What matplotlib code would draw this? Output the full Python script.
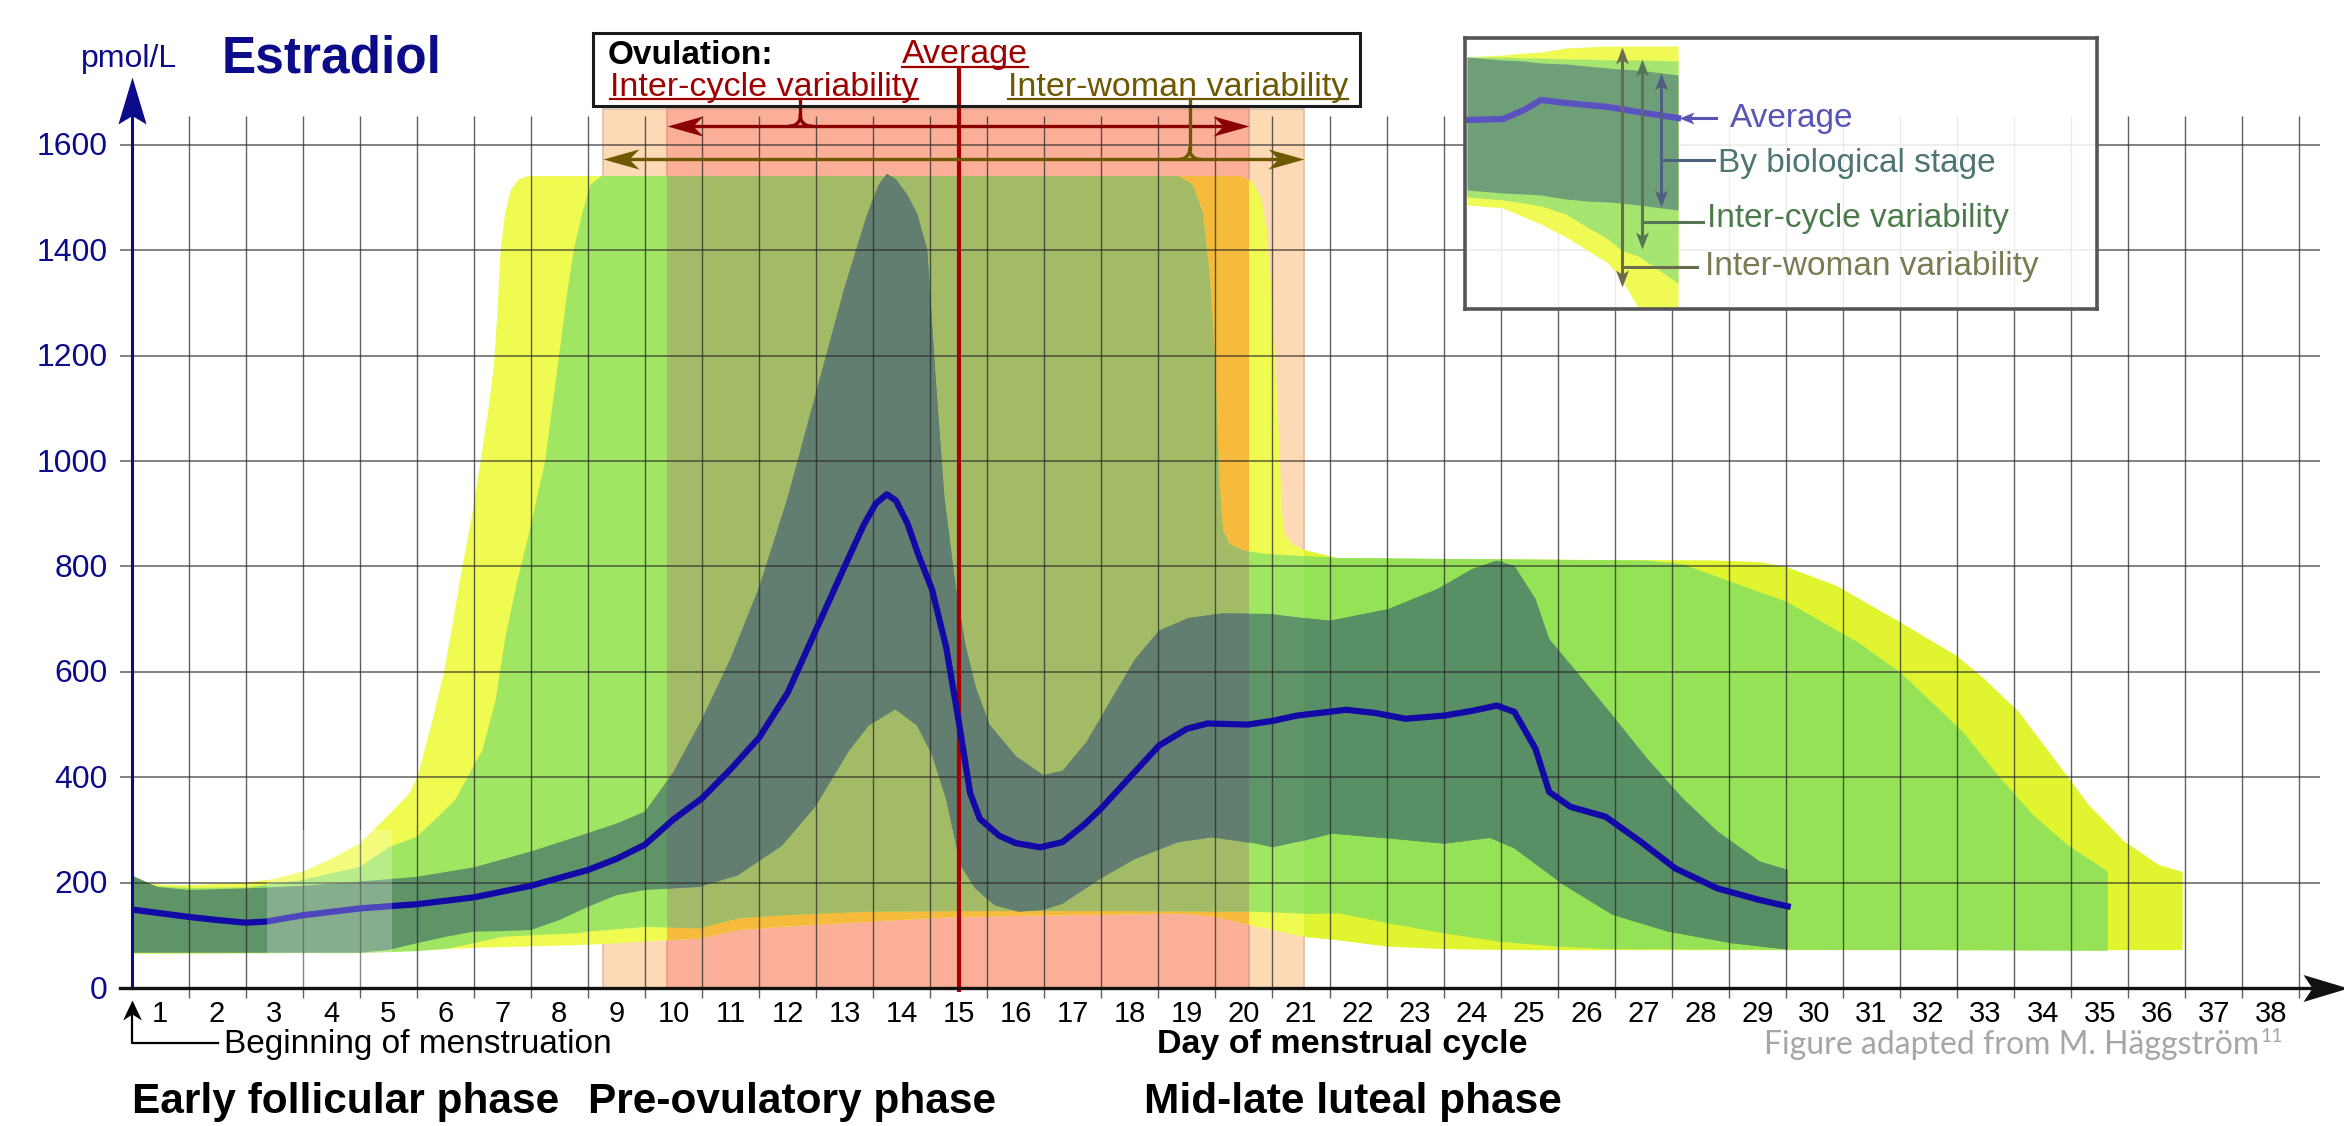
import numpy as np
import matplotlib
matplotlib.use("Agg")
import matplotlib.pyplot as plt
from matplotlib.patches import Rectangle
from matplotlib.lines import Line2D
from matplotlib.path import Path

plt.rcParams['font.family'] = ['Liberation Sans', 'DejaVu Sans']

W, H = 2344, 1126                 # output size in pixels
PX_DAY, PX_VAL = 57.05, 0.5269    # pixels per day / per pmol/L
X0, Y0 = 131.5, 988               # pixel position of (day 0.5, 0 pmol/L)

# ---------------- data ----------------
days = list(range(1, 39))
yticks = [0, 200, 400, 600, 800, 1000, 1200, 1400, 1600]

# average level
avg_x = [0.5, 1.0, 1.5, 2.0, 2.5, 2.86, 3.5, 4.5, 5.5, 6.5, 7.5, 8.5, 9.0, 9.5, 10.0,
         10.5, 11.0, 11.5, 12.0, 12.5, 13.0, 13.34, 13.55, 13.74, 13.9, 14.1, 14.3, 14.53,
         14.78, 15.0, 15.2, 15.37, 15.71, 16.0, 16.43, 16.82, 17.2, 17.49, 18.0, 18.51,
         19.0, 19.36, 20.07, 20.5, 20.93, 21.79, 22.3, 22.83, 23.51, 24.0, 24.43, 24.74,
         25.11, 25.35, 25.72, 26.34, 26.95, 27.56, 28.3, 29.04, 29.53]
avg = [149, 142, 135, 129, 124, 126, 138, 151, 159, 172, 194, 224, 245, 272, 320,
       360, 415, 475, 560, 680, 800, 880, 920, 937, 925, 882, 820, 757,
       647, 506, 370, 321, 289, 275, 267, 277, 310, 340, 400, 460,
       492, 502, 500, 507, 517, 528, 522, 511, 517, 526, 536, 524,
       454, 372, 344, 325, 278, 227, 189, 167, 155]

# by biological stage (dark band)
stage_top_x = [0.5, 0.95, 1.5, 2.5, 3.5, 4.5, 5.5, 6.5, 7.5, 8.5, 9.0, 9.5, 10.0, 10.5,
               11.0, 11.5, 12.0, 12.5, 13.0, 13.4, 13.6, 13.74, 13.9, 14.1, 14.27, 14.45,
               14.6, 14.75, 14.95, 15.12, 15.3, 15.54, 16.0, 16.48, 16.82, 17.24, 17.66,
               18.09, 18.51, 19.02, 19.61, 20.46, 21.06, 21.51, 22.53, 23.39, 24.0, 24.43,
               24.74, 25.11, 25.35, 25.84, 26.46, 27.07, 27.69, 28.3, 29.04, 29.53]
stage_top = [214, 192, 186, 189, 194, 202, 211, 229, 259, 294, 312, 335, 410, 510,
             625, 760, 930, 1130, 1330, 1470, 1525, 1545, 1535, 1505, 1470, 1400,
             1150, 930, 760, 650, 570, 500, 440, 404, 412, 467, 545,
             624, 678, 702, 711, 710, 702, 697, 719, 757, 795, 811,
             801, 738, 662, 599, 517, 435, 360, 297, 240, 224]
stage_bot_x = [0.5, 4.5, 5.0, 5.5, 6.0, 6.5, 7.0, 7.5, 8.0, 8.5, 9.0, 9.5, 10.45, 11.13,
               11.9, 12.49, 13.08, 13.42, 13.89, 14.27, 14.53, 14.78, 15.03, 15.29, 15.63,
               16.05, 16.48, 16.82, 17.49, 18.09, 18.85, 19.44, 20.21, 20.5, 21.06, 21.54,
               22.53, 23.51, 24.31, 24.74, 25.6, 26.46, 27.44, 28.55, 29.53]
stage_bot = [67, 67, 72, 85, 97, 107, 108, 110, 129, 154, 176, 186, 192, 214,
             270, 345, 451, 498, 529, 498, 443, 358, 233, 189, 157,
             145, 148, 160, 208, 245, 277, 286, 274, 267, 280, 293,
             284, 274, 285, 265, 196, 139, 107, 85, 73]

# inter-cycle variability (light green band)
cycle_top_x = [0.5, 1.5, 2.5, 3.5, 4.5, 5.03, 5.5, 6.0, 6.18, 6.41, 6.65, 6.88, 7.05, 7.23,
               7.46, 7.75, 7.99, 8.13, 8.25, 8.40, 8.55, 8.74, 18.85, 19.1, 19.28, 19.4,
               19.49, 19.57, 19.63, 19.75, 20.0, 20.38, 21.63, 27.07, 27.69, 28.55, 29.53,
               30.14, 30.76, 31.5, 31.99, 32.6, 33.21, 33.83, 34.44, 35.14]
cycle_top = [195, 190, 191, 205, 230, 268, 287, 338, 358, 404, 451, 545, 663, 757,
             859, 1000, 1196, 1314, 1400, 1471, 1525, 1541, 1541, 1525, 1471, 1353,
             1196, 961, 870, 842, 830, 824, 816, 811, 804, 770, 732,
             694, 656, 599, 549, 486, 404, 328, 271, 221]
cycle_bot_x = [0.5, 4.5, 5.5, 6.0, 6.5, 7.0, 7.5, 8.33, 8.5, 9.5, 10.45, 11.13, 11.9, 13.42,
               15.0, 18.0, 19.5, 20.12, 21.06, 21.67, 22.53, 23.51, 24.49, 25.48, 26.46, 35.14]
cycle_bot = [66, 66, 70, 74, 85, 97, 100, 104, 107, 116, 113, 132, 138, 145,
             146, 146, 145, 145, 141, 142, 123, 104, 88, 79, 74, 71]

# inter-woman variability (yellow band)
woman_top_x = [0.5, 1.0, 1.5, 2.5, 3.0, 3.5, 3.96, 4.5, 5.03, 5.37, 5.51, 5.77, 5.98, 6.12,
               6.3, 6.47, 6.62, 6.76, 6.85, 6.91, 6.97, 7.05, 7.15, 7.29, 7.46, 19.95, 20.15,
               20.3, 20.4, 20.5, 20.6, 20.67, 20.72, 20.85, 21.06, 21.67, 28.3, 29.04, 29.53,
               30.39, 31.5, 32.48, 32.97, 33.58, 34.2, 34.81, 35.43, 36.04, 36.45]
woman_top = [205, 196, 195, 200, 207, 221, 243, 274, 331, 369, 400, 506, 600, 686,
             800, 898, 1000, 1102, 1180, 1275, 1400, 1471, 1515, 1535, 1541, 1541, 1530,
             1500, 1440, 1300, 1080, 900, 860, 842, 831, 815, 811, 808, 798,
             763, 694, 631, 587, 524, 435, 347, 278, 233, 220]
woman_bot_x = [0.5, 3.0, 5.0, 6.5, 7.5, 8.5, 9.5, 10.45, 11.13, 11.9, 13.42, 15.0, 16.8,
               18.93, 19.5, 20.12, 20.63, 21.06, 21.63, 22.5, 23.5, 25.0, 36.45]
woman_bot = [65, 66, 70, 76, 79, 82, 88, 94, 110, 116, 126, 135, 138,
             141, 135, 119, 107, 97, 91, 79, 74, 72, 72]

# ovulation day ranges
ovu_woman = (8.76, 21.06)
ovu_cycle = (9.89, 20.08)
ovu_avg = 15.0
ovu_top = 1669

# legend inset (its own pixel units)
ins_x = [2, 38, 59, 76, 101, 122, 143, 156, 173, 213]
ins_woman_top = [19, 17, 15, 14, 10, 9, 8, 8, 8, 8]
ins_woman_bot = [167, 170, 179, 186, 199, 212, 225, 240, 270, 270]
ins_cycle_top = [19, 19, 20, 20, 21, 21, 22, 22, 22, 23]
ins_cycle_bot = [159, 162, 165, 168, 176, 189, 201, 212, 218, 245]
ins_stage_top = [19, 22, 23, 25, 26, 28, 30, 31, 32, 37]
ins_stage_bot = [152, 155, 156, 157, 161, 163, 164, 165, 167, 172]
ins_avg = [82, 81, 72, 62, 65, 67, 69, 71, 74, 80]

NAVY = '#0C0C8A'
RED = '#9E0000'
OLIVE = '#6E5800'


def head(axis, x, y, angle, length_px, half_w, notch, color, z=10):
    v = np.array([[0, 0], [-1, half_w], [-notch, 0], [-1, -half_w], [0, 0]])
    th = np.deg2rad(angle)
    rot = np.array([[np.cos(th), -np.sin(th)], [np.sin(th), np.cos(th)]])
    path = Path(v @ rot.T, [Path.MOVETO, Path.LINETO, Path.LINETO, Path.LINETO, Path.CLOSEPOLY])
    axis.plot([x], [y], marker=path, ms=2 * length_px * 0.72, color=color, mew=0,
              clip_on=False, zorder=z, ls='none')


def fxy(px, py):
    return px / W, 1 - py / H


fig = plt.figure(figsize=(W / 100, H / 100), dpi=100)
ax = fig.add_axes([X0 / W, 1 - Y0 / H, 38.7 * PX_DAY / W, 1700 * PX_VAL / H])
ax.set_xlim(0.5, 39.2)
ax.set_ylim(0, 1700)
ax.axis('off')

# ovulation windows
ax.add_patch(Rectangle((ovu_woman[0], 0), ovu_woman[1] - ovu_woman[0], ovu_top,
                       fc='#FDD9B6', ec='#D6C0AA', lw=1.2, zorder=1))
ax.add_patch(Rectangle((ovu_cycle[0], 0), ovu_cycle[1] - ovu_cycle[0], ovu_top,
                       fc='#FCAF98', ec='#D9A08C', lw=1.2, zorder=1.1))


def clip_rect(a, b):
    return Rectangle((a, -100), b - a, 2000, transform=ax.transData)


def layer(xt, yt, xb, yb, base, right, tint, z):
    xs = np.r_[xt, xb[::-1]]
    ys = np.r_[yt, yb[::-1]]
    ax.fill(xs, ys, color=base, lw=0, zorder=z)
    p = ax.fill(xs, ys, color=right, lw=0, zorder=z + 0.01)[0]
    p.set_clip_path(clip_rect(ovu_woman[1], 40))
    p = ax.fill(xs, ys, color=tint, lw=0, zorder=z + 0.02)[0]
    p.set_clip_path(clip_rect(*ovu_cycle))


layer(woman_top_x, woman_top, woman_bot_x, woman_bot, '#F0FB52', '#E0F52F', '#F6BA3C', 2)
layer(cycle_top_x, cycle_top, cycle_bot_x, cycle_bot, '#A0E662', '#95E256', '#A3BB66', 3)
layer(stage_top_x, stage_top, stage_bot_x, stage_bot, '#5E9467', '#588F64', '#627E70', 4)

# grid
grid_x = [d + 0.5 for d in days]
ax.vlines(grid_x, -19, 1655, colors='#2A2A2A', lw=1.0, alpha=0.75, zorder=5, clip_on=False)
ax.hlines(yticks[1:], 0.3, 38.86, colors='#2A2A2A', lw=1.1, alpha=0.75, zorder=5, clip_on=False)

# ovulation average line and the average curve
ax.plot([ovu_avg, ovu_avg], [-7, (Y0 - 66.7) / PX_VAL], color='#A80000', lw=3,
        zorder=6, clip_on=False, solid_capstyle='butt')
ax.plot(avg_x, avg, color='#1209A6', lw=4.5, zorder=7, solid_joinstyle='round')
ax.add_patch(Rectangle((2.88, 2), 2.18, 298, fc='white', alpha=0.25, lw=0, zorder=7.5))

# axes with arrows
y_tip = (Y0 - 76.7) / PX_VAL
ax.plot([0.5, 0.5], [0, y_tip - 0.8 * 47 / PX_VAL], color=NAVY, lw=2.2, clip_on=False, zorder=9)
head(ax, 0.5, y_tip, 90, 47, 0.30, 0.82, NAVY)
x_tip = 39.35
ax.plot([0.3, x_tip - 0.8 * 45 / PX_DAY], [0, 0], color='#111111', lw=2.4, clip_on=False, zorder=9)
head(ax, x_tip, 0, 0, 45, 0.30, 0.8, '#111111')

for d in days:
    ax.text(d, -64, str(d), ha='center', va='baseline', fontsize=21, color='black')
for v in yticks:
    ax.text(0.088, v - 20, str(v), ha='right', va='baseline', fontsize=23, color=NAVY)

# beginning of menstruation pointer
b_y = (Y0 - 1042.7) / PX_VAL
b_tip = (Y0 - 1000) / PX_VAL
ax.plot([0.5 + (218 - X0) / PX_DAY, 0.5, 0.5], [b_y, b_y, b_tip - 0.7 * 20 / PX_VAL],
        color='black', lw=1.6, clip_on=False, zorder=9)
head(ax, 0.5, b_tip, 90, 20, 0.47, 0.7, 'black')


# ovulation range arrows with braces
def darrow(x0, x1, y, color):
    s = 0.7 * 36 / PX_DAY
    ax.plot([x0 + s, x1 - s], [y, y], color=color, lw=2.4, clip_on=False, zorder=8)
    head(ax, x0, y, 180, 36, 0.28, 0.72, color, z=8.5)
    head(ax, x1, y, 0, 36, 0.28, 0.72, color, z=8.5)


def brace(xc, y_top, y_arr, color):
    rx, ry = 10 / PX_DAY, 10 / PX_VAL
    t = np.linspace(0, np.pi / 2, 20)
    kw = dict(color=color, lw=2.4, clip_on=False, zorder=8)
    ax.plot([xc, xc], [y_top, y_arr + ry], **kw)
    ax.plot(xc - rx + rx * np.cos(t), y_arr + ry - ry * np.sin(t), **kw)
    ax.plot(xc + rx - rx * np.cos(t), y_arr + ry - ry * np.sin(t), **kw)


y_red = (Y0 - 126) / PX_VAL
y_olive = (Y0 - 159.3) / PX_VAL
y_ul = (Y0 - 99.3) / PX_VAL
darrow(*ovu_cycle, y_red, '#8B0000')
darrow(*ovu_woman, y_olive, OLIVE)
brace(0.5 + (800.4 - X0) / PX_DAY, y_ul, y_red, '#8B0000')
brace(0.5 + (1189.7 - X0) / PX_DAY, y_ul, y_olive, OLIVE)

# ovulation box
fig.add_artist(Rectangle(fxy(593, 106), (1360 - 593) / W, (106 - 33) / H, fill=False,
                         ec='#1A1A1A', lw=2.2, transform=fig.transFigure))
renderer = fig.canvas.get_renderer()


def underline(t, y_px, color):
    bb = t.get_window_extent(renderer=renderer)
    fig.add_artist(Line2D([bb.x0 / W, bb.x1 / W], [1 - y_px / H] * 2, color=color, lw=1.6,
                          transform=fig.transFigure))


fig.text(*fxy(608, 64), 'Ovulation:', fontsize=24, fontweight='bold', va='baseline')
t = fig.text(*fxy(965, 63), 'Average', fontsize=24.5, color=RED, ha='center', va='baseline')
underline(t, 66.7, RED)
t = fig.text(*fxy(609.6, 95.7), 'Inter-cycle variability', fontsize=24.5, color=RED, va='baseline')
underline(t, 99.3, RED)
t = fig.text(*fxy(1007.6, 95.7), 'Inter-woman variability', fontsize=24.5, color=OLIVE,
             va='baseline')
underline(t, 99.3, OLIVE)

# titles and labels
fig.text(*fxy(129, 66.7), 'pmol/L', fontsize=23, color=NAVY, ha='center', va='baseline')
fig.text(*fxy(222, 72.7), 'Estradiol', fontsize=37, fontweight='bold', color=NAVY, va='baseline')
fig.text(*fxy(224.5, 1053), 'Beginning of menstruation', fontsize=24, va='baseline')
fig.text(*fxy(1342, 1053), 'Day of menstrual cycle', fontsize=24.5, fontweight='bold',
         ha='center', va='baseline')
for x, s in [(131.5, 'Early follicular phase'), (587.5, 'Pre-ovulatory phase'),
             (1143.6, 'Mid-late luteal phase')]:
    fig.text(*fxy(x, 1113), s, fontsize=30.5, fontweight='bold', va='baseline')
t = fig.text(*fxy(1763.7, 1054), 'Figure adapted from M. Häggström', fontsize=23,
             family=['Lato', 'DejaVu Sans'], color='#A9A5A5', va='baseline')
bb = t.get_window_extent(renderer=renderer)
fig.text((bb.x1 + 2) / W, 1 - (1054 - 12) / H, '11', fontsize=14,
         family=['Lato', 'DejaVu Sans'], color='#A9A5A5', va='baseline')

# legend inset
ins = fig.add_axes([1465 / W, 1 - 309 / H, 632 / W, 271 / H])
ins.set_xlim(0, 632)
ins.set_ylim(271, 0)
ins.set_xticks([])
ins.set_yticks([])
ins.patch.set_facecolor('white')
ins.patch.set_alpha(0.88)
for s in ins.spines.values():
    s.set_color('#555555')
    s.set_linewidth(2.6)

ins.fill_between(ins_x, ins_woman_top, ins_woman_bot, color='#F0FA55', lw=0)
ins.fill_between(ins_x, ins_cycle_top, ins_cycle_bot, color='#A6E670', lw=0)
ins.fill_between(ins_x, ins_stage_top, ins_stage_bot, color='#6F9F79', lw=0)
ins.plot(ins_x, ins_avg, color='#5B52C2', lw=4.5)


def vdouble(x, y0, y1, color):
    s = 0.75 * 17
    ins.plot([x, x], [y0 + s, y1 - s], color=color, lw=2.2)
    head(ins, x, y0, 90, 17, 0.38, 0.75, color)
    head(ins, x, y1, -90, 17, 0.38, 0.75, color)


vdouble(156.8, 8.7, 248.7, '#6B6B4E')
vdouble(177, 21.3, 211.3, '#557555')
vdouble(196, 35.3, 168.7, '#4F5F7F')
ins.plot([196, 248.6], [122, 122], color='#4F5F7F', lw=2.2)
ins.plot([177, 238], [183.7, 183.7], color='#557555', lw=2.2)
ins.plot([156.8, 231.7], [228.7, 228.7], color='#6B6B4E', lw=2.2)
ins.plot([250.7, 214 + 0.75 * 15], [80.3, 80.3], color='#5A55B5', lw=2.2)
head(ins, 214, 80.3, 180, 15, 0.4, 0.75, '#5A55B5')

ins.text(265.4, 80.3, 'Average', fontsize=24, color='#5A55B5', va='center')
ins.text(252.8, 125.3, 'By biological stage', fontsize=24, color='#4E7474', va='center')
ins.text(242.3, 180.3, 'Inter-cycle variability', fontsize=24, color='#4B7B4B', va='center')
ins.text(240, 228.7, 'Inter-woman variability', fontsize=24, color='#7B7A52', va='center')

fig.savefig('out.png', dpi=100, facecolor='white')
